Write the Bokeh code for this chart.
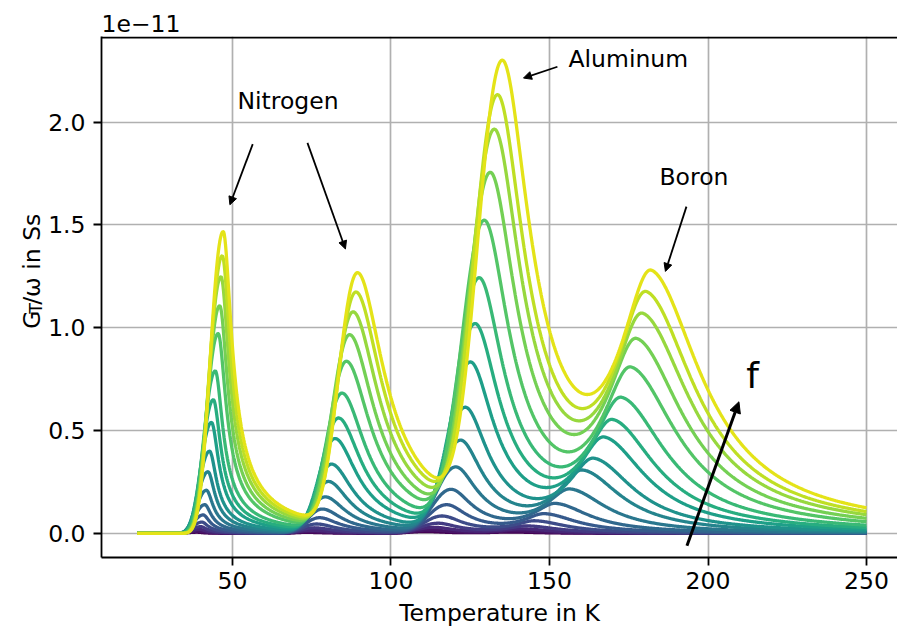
import numpy as np
from bokeh.plotting import figure
from bokeh.layouts import row
from bokeh.models import Range1d, FixedTicker, Label, Arrow, NormalHead, Span, PrintfTickFormatter
from bokeh.core.properties import value
from bokeh.palettes import Viridis256
from bokeh.embed import file_html
from bokeh.resources import INLINE

# One curve per measurement frequency, lowest to highest.
# Peak temperature (K) and peak height (1e-11 Ss) of each defect level.
n1_temp = [38.8, 39.2, 39.6, 40.0, 40.4, 40.8, 41.3, 41.8, 42.3, 42.8, 43.4, 44.0, 44.6, 45.5, 46.0, 46.4, 46.8, 47.1]
n1_height = [0.006, 0.011, 0.02, 0.033, 0.055, 0.09, 0.14, 0.21, 0.30, 0.40, 0.54, 0.65, 0.79, 0.972, 1.107, 1.248, 1.35, 1.468]

n2_temp = [73.5, 74.2, 75.0, 75.8, 76.6, 77.5, 78.4, 79.3, 80.3, 81.3, 82.4, 83.5, 84.6, 86.0, 87.0, 88.1, 89.0, 89.5]
n2_height = [0.005, 0.009, 0.015, 0.027, 0.045, 0.075, 0.116, 0.174, 0.247, 0.329, 0.45, 0.547, 0.664, 0.813, 0.938, 1.045, 1.138, 1.228]

al_temp = [111.0, 112.3, 113.6, 114.9, 116.2, 117.6, 119.0, 120.5, 122.0, 123.5, 125.1, 126.6, 127.9, 129.5, 131.4, 132.7, 133.7, 135.2]
al_height = [0.009, 0.016, 0.029, 0.048, 0.082, 0.135, 0.207, 0.312, 0.437, 0.591, 0.802, 0.98, 1.192, 1.456, 1.677, 1.874, 2.03, 2.19]

b_temp = [137.5, 139.0, 141.0, 143.0, 145.5, 148.5, 152.0, 156.5, 160.5, 164.0, 167.3, 170.0, 172.8, 175.8, 177.6, 179.5, 180.7, 182.3]
b_height = [0.006, 0.011, 0.019, 0.031, 0.052, 0.081, 0.124, 0.186, 0.268, 0.313, 0.398, 0.467, 0.557, 0.68, 0.79, 0.89, 0.975, 1.055]

# Peak line shape of each level in 1/T:
# rising side [kind, width, slope], falling side [core width, exponent, cut-off]
n1_shape = [("gauss", 0.00194, 0.0), (0.0012, 0.65, 0.011)]
n2_shape = [("gauss", 0.00078, 0.0), (0.0012, 0.95, 0.007)]
al_shape = [("gauss", 0.00044, 0.0), (0.0005, 0.75, 0.003)]
b_shape = [("hyper", 0.0002, 0.666), (0.0006, 1.18, 0.0025)]

x_ticks = [50, 100, 150, 200, 250]
y_ticks = [0.0, 0.5, 1.0, 1.5, 2.0]

temperature = np.linspace(20, 250, 1151)


def level_peak(t, tp, h, shape):
    (kind, w, k), (a, m, c) = shape
    x = 1.0 / tp - 1.0 / t
    if kind == "gauss":
        rise = np.exp(-0.5 * (x / w) ** 2)
    else:
        rise = np.exp(-k * (np.sqrt(1.0 + (x / w) ** 2) - 1.0))
    fall = (1.0 + (x / a) ** 2) ** (-m) * np.exp(-(x / c) ** 2)
    return h * np.where(x < 0, rise, fall)


levels = [(n1_temp, n1_height, n1_shape), (n2_temp, n2_height, n2_shape),
          (al_temp, al_height, al_shape), (b_temp, b_height, b_shape)]

FONT = "DejaVu Sans"
FS = "23.5px"

p = figure(width=852, height=633, x_range=Range1d(8.7, 259.77), y_range=Range1d(-0.117, 2.416),
           output_backend="svg", toolbar_location=None,
           min_border_left=56, min_border_right=0, min_border_top=36, min_border_bottom=76)
p.background_fill_color = "white"
p.border_fill_color = "white"
p.outline_line_color = None

n = len(n1_temp)
colors = [Viridis256[int(round(245 * i / (n - 1)))] for i in range(n)]
for i, c in enumerate(colors):
    g = np.zeros_like(temperature)
    for temps, heights, shape in levels:
        g = g + level_peak(temperature, temps[i], heights[i], shape)
    p.line(temperature, g, line_color=c, line_width=3.3)

# axes
for ax in (p.xaxis[0], p.yaxis[0]):
    ax.axis_line_width = 1.8
    ax.major_tick_line_width = 1.8
    ax.major_tick_out = 8
    ax.major_tick_in = 0
    ax.minor_tick_line_color = None
    ax.major_label_text_font = FONT
    ax.major_label_text_font_size = FS
    ax.major_label_text_color = "black"
p.xaxis.major_label_standoff = 6
p.yaxis.major_label_standoff = 8
p.xaxis.ticker = FixedTicker(ticks=x_ticks)
p.yaxis.ticker = FixedTicker(ticks=y_ticks)
p.yaxis.formatter = PrintfTickFormatter(format="%.1f")
p.xaxis.axis_label = "Temperature in K"
p.xaxis.axis_label_text_font = FONT
p.xaxis.axis_label_text_font_size = FS
p.xaxis.axis_label_text_font_style = "normal"
p.xaxis.axis_label_text_color = "black"
p.xaxis.axis_label_standoff = 7

# upper spine
p.add_layout(Span(location=2.4112, dimension="width", line_color="black", line_width=1.8))

p.xgrid.ticker = FixedTicker(ticks=x_ticks)
p.ygrid.ticker = FixedTicker(ticks=y_ticks)
for gr in (p.xgrid[0], p.ygrid[0]):
    gr.grid_line_color = "#b0b0b0"
    gr.grid_line_width = 1.7

# scale factor of the y values
p.title.text = "1e\u221211"
p.title.align = "left"
p.title.text_font = FONT
p.title.text_font_size = FS
p.title.text_font_style = "normal"
p.title.text_color = "black"
p.title.standoff = 10


def text(x, y, s, size=FS, **kw):
    p.add_layout(Label(x=x, y=y, text=s, text_font=FONT, text_font_size=size,
                       text_color="black", **kw))


# annotations
text(51.58, 2.036, "Nitrogen")
text(156.0, 2.240, "Aluminum")
text(184.7, 1.666, "Boron")
text(212.1, 0.669, "f", size="36px")

arrows = [((56.4, 1.893), (49.2, 1.598), 1.8, 8),
          ((73.66, 1.899), (85.64, 1.383), 1.8, 8),
          ((152.5, 2.269), (141.8, 2.214), 1.8, 8),
          ((193.2, 1.589), (186.57, 1.274), 1.8, 8),
          ((193.36, -0.06), (209.75, 0.640), 3.0, 11)]
for (x0, y0), (x1, y1), lw, hs in arrows:
    p.add_layout(Arrow(x_start=x0, y_start=y0, x_end=x1, y_end=y1, line_width=lw,
                       line_color="black",
                       end=NormalHead(size=hs, fill_color="black", line_color="black", line_width=1)))

# y axis title strip, in pixel coordinates
ylab = figure(width=45, height=633, x_range=Range1d(0, 45), y_range=Range1d(0, 633),
              output_backend="svg", toolbar_location=None, min_border=0,
              x_axis_location=None, y_axis_location=None)
ylab.outline_line_color = None
ylab.xgrid.visible = False
ylab.ygrid.visible = False
ylab.background_fill_color = "white"
ylab.border_fill_color = "white"
ylab.text(x=[31.5], y=[278.0], text=["G"], angle=np.pi / 2, text_font=value(FONT),
          text_font_size=FS, text_align="left", text_baseline="alphabetic", text_color="black")
ylab.text(x=[35.0], y=[296.2], text=["T"], angle=np.pi / 2, text_font=value(FONT),
          text_font_size="17.5px", text_align="left", text_baseline="alphabetic", text_color="black")
ylab.text(x=[31.5], y=[307.0], text=["/\u03c9 in Ss"], angle=np.pi / 2, text_font=value(FONT),
          text_font_size=FS, text_align="left", text_baseline="alphabetic", text_color="black")

layout = row(ylab, p)
open("out.html", "w").write(file_html(layout, INLINE))
